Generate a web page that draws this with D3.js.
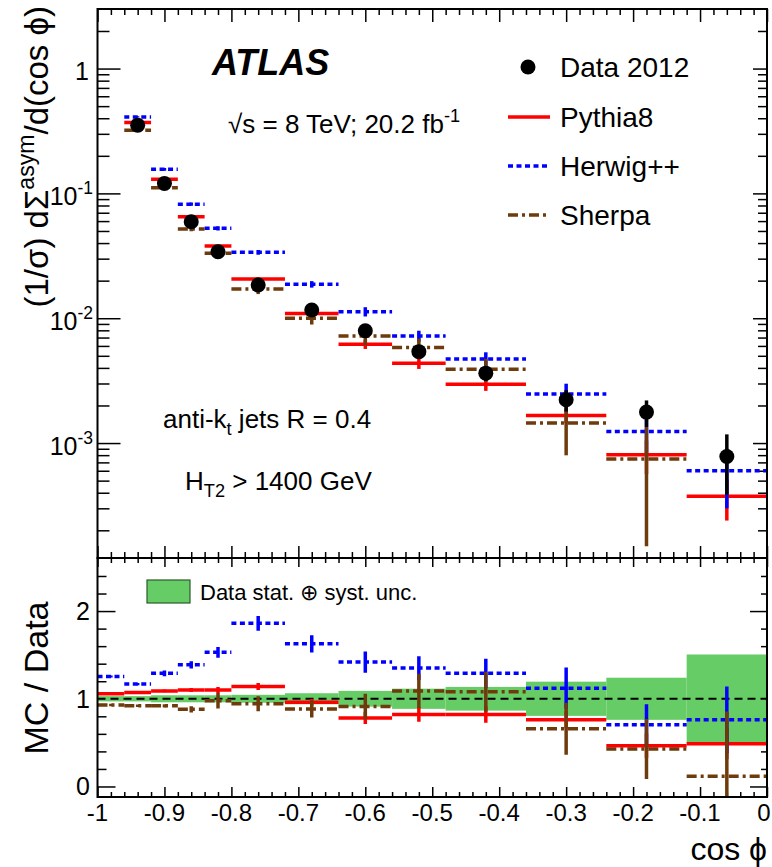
<!DOCTYPE html>
<html>
<head>
<meta charset="utf-8">
<style>
  body { margin: 0; background: #fff; }
  svg { font-family: "Liberation Sans", Arial, Helvetica, sans-serif; }
  .axis .domain { display: none; }
  .axis line { stroke: #000; stroke-width: 1.5px; }
  .frame { fill: none; stroke: #000; stroke-width: 2px; }
</style>
</head>
<body>
<svg id="chart" width="772" height="867"></svg>
<script src="https://d3js.org/d3.v7.min.js"></script>
<script>
// bin edges in cos phi
var edges = [-1, -0.96, -0.92, -0.88, -0.84, -0.8, -0.72, -0.64, -0.56, -0.48, -0.36, -0.24, -0.12, 0];

// upper panel, (1/sigma) dSigma/dcos phi ; null = off scale
var dataVal = [null, 0.352, 0.120, 0.0593, 0.0341, 0.01846, 0.01165, 0.00793, 0.0054, 0.00363, 0.00222, 0.00177, 0.00078];
var pythia  = [null, 0.370, 0.130, 0.065, 0.0379, 0.0206, 0.0109, 0.0062, 0.00436, 0.00296, 0.00166, 0.000806, 0.000374];
var herwig  = [null, 0.410, 0.156, 0.082, 0.0525, 0.0337, 0.0187, 0.01129, 0.00722, 0.00472, 0.00247, 0.00124, 0.0006];
var sherpa  = [null, 0.321, 0.111, 0.0518, 0.0331, 0.01715, 0.0100, 0.00722, 0.00582, 0.00391, 0.00145, 0.000745, null];

// lower panel, MC / Data
var pythiaRatio = [1.057, 1.072, 1.09, 1.10, 1.10, 1.14, 0.96, 0.78, 0.82, 0.82, 0.76, 0.465, 0.487];
var herwigRatio = [1.254, 1.167, 1.29, 1.387, 1.53, 1.86, 1.626, 1.418, 1.35, 1.29, 1.12, 0.704, 0.76];
var sherpaRatio = [0.928, 0.92, 0.92, 0.88, 0.977, 0.943, 0.883, 0.912, 1.09, 1.08, 0.658, 0.427, 0.117];

// relative uncertainties
var dataRelErr = [0.03, 0.03, 0.04, 0.04, 0.04, 0.045, 0.063, 0.09, 0.115, 0.135, 0.195, 0.24, 0.505];
var pythiaErr  = [0.01, 0.01, 0.015, 0.02, 0.03, 0.035, 0.04, 0.085, 0.1, 0.115, 0.13, 0.3, 0.36];
var herwigErr  = [0.01, 0.01, 0.025, 0.03, 0.04, 0.045, 0.06, 0.085, 0.1, 0.13, 0.21, 0.33, 0.5];
var sherpaErr  = [0.015, 0.015, 0.02, 0.04, 0.09, 0.09, 0.11, 0.16, 0.18, 0.21, 0.45, 0.8, 6.3];

var xMajor = d3.range(11).map(function(i){ return -1 + i * 0.1; });
var xMinor = d3.range(51).map(function(i){ return -1 + i * 0.02; }).filter(function(d, i){ return i % 5 != 0; });
var yDecades = [1, 0.1, 0.01, 0.001];
var rMajor = [0, 1, 2];
var rMinor = [0.2, 0.4, 0.6, 0.8, 1.2, 1.4, 1.6, 1.8, 2.2, 2.4];

var left = 97.5, right = 767;
var topY0 = 9, topY1 = 558, ratY0 = 558, ratY1 = 797;

var x = d3.scaleLinear().domain([-1, 0]).range([left, right]);
var y = d3.scaleLog().domain([1.2e-4, 3]).range([topY1, topY0]);
var yr = d3.scaleLinear().domain([-0.12, 2.605]).range([ratY1, ratY0]);

var yMinor = [];
[-4, -3, -2, -1, 0].forEach(function(e){
  for (var k = 2; k <= 9; k++) {
    var v = k * Math.pow(10, e);
    if (v > 1.2e-4 && v < 3) yMinor.push(v);
  }
});

var svg = d3.select("#chart");
var defs = svg.append("defs");
defs.append("clipPath").attr("id", "clipTop").append("rect")
    .attr("x", left).attr("y", topY0).attr("width", right - left).attr("height", topY1 - topY0);
defs.append("clipPath").attr("id", "clipRat").append("rect")
    .attr("x", left).attr("y", ratY0).attr("width", right - left).attr("height", ratY1 - ratY0);

var bins = d3.range(edges.length - 1).map(function(i){
  return {i: i, lo: edges[i], hi: edges[i + 1], mid: (edges[i] + edges[i + 1]) / 2};
});

var series = [
  {name: "Pythia8",  vals: pythia, ratio: pythiaRatio, err: pythiaErr, color: "#ff0000", dash: null},
  {name: "Herwig++", vals: herwig, ratio: herwigRatio, err: herwigErr, color: "#0000ff", dash: "5,3.5"},
  {name: "Sherpa",   vals: sherpa, ratio: sherpaRatio, err: sherpaErr, color: "#6e3b0c", dash: "10,4,3,4"}
];

// ---------- ticks
function ticks(axis, values, size, tx, ty) {
  svg.append("g").attr("class", "axis")
      .attr("transform", "translate(" + tx + "," + ty + ")")
      .call(axis.tickValues(values).tickSize(-size).tickFormat(""));
}
// upper panel
ticks(d3.axisBottom(x), xMajor, 12, 0, topY1);
ticks(d3.axisBottom(x), xMinor, 6, 0, topY1);
ticks(d3.axisTop(x), xMajor, 13, 0, topY0);
ticks(d3.axisTop(x), xMinor, 6, 0, topY0);
ticks(d3.axisLeft(y), yDecades, 23, left, 0);
ticks(d3.axisLeft(y), yMinor, 12, left, 0);
ticks(d3.axisRight(y), yDecades, 14, right, 0);
ticks(d3.axisRight(y), yMinor, 9, right, 0);
// ratio panel
ticks(d3.axisBottom(x), xMajor, 10, 0, ratY1);
ticks(d3.axisBottom(x), xMinor, 5, 0, ratY1);
ticks(d3.axisTop(x), xMajor, 9, 0, ratY0);
ticks(d3.axisTop(x), xMinor, 5, 0, ratY0);
ticks(d3.axisLeft(yr), rMajor, 18, left, 0);
ticks(d3.axisLeft(yr), rMinor, 9, left, 0);
ticks(d3.axisRight(yr), rMajor, 17, right, 0);
ticks(d3.axisRight(yr), rMinor, 6, right, 0);

// ---------- upper panel
var gTop = svg.append("g").attr("clip-path", "url(#clipTop)");

series.forEach(function(s){
  var g = gTop.append("g");
  var b = bins.filter(function(d){ return s.vals[d.i] != null; });
  g.selectAll("line.err").data(b).enter().append("line")
      .attr("x1", function(d){ return x(d.mid); })
      .attr("x2", function(d){ return x(d.mid); })
      .attr("y1", function(d){ return y(s.vals[d.i] * (1 + s.err[d.i])); })
      .attr("y2", function(d){ return y(Math.max(s.vals[d.i] * (1 - s.err[d.i]), 1e-6)); })
      .attr("stroke", s.color).attr("stroke-width", 3.5);
  g.selectAll("line.h").data(b).enter().append("line")
      .attr("x1", function(d){ return x(d.lo); })
      .attr("x2", function(d){ return x(d.hi); })
      .attr("y1", function(d){ return y(s.vals[d.i]); })
      .attr("y2", function(d){ return y(s.vals[d.i]); })
      .attr("stroke", s.color).attr("stroke-width", 3.5)
      .attr("stroke-dasharray", s.dash);
});

var dBins = bins.filter(function(d){ return dataVal[d.i] != null; });
gTop.selectAll("line.derr").data(dBins).enter().append("line")
    .attr("x1", function(d){ return x(d.mid); })
    .attr("x2", function(d){ return x(d.mid); })
    .attr("y1", function(d){ return y(dataVal[d.i] * (1 + dataRelErr[d.i])); })
    .attr("y2", function(d){ return y(dataVal[d.i] * (1 - dataRelErr[d.i])); })
    .attr("stroke", "#000").attr("stroke-width", 3.5);
gTop.selectAll("circle").data(dBins).enter().append("circle")
    .attr("cx", function(d){ return x(d.mid); })
    .attr("cy", function(d){ return y(dataVal[d.i]); })
    .attr("r", 7.5).attr("fill", "#000");

// ---------- ratio panel
var gRat = svg.append("g").attr("clip-path", "url(#clipRat)");
gRat.selectAll("rect.band").data(bins).enter().append("rect")
    .attr("x", function(d){ return x(d.lo); })
    .attr("width", function(d){ return x(d.hi) - x(d.lo); })
    .attr("y", function(d){ return yr(1 + dataRelErr[d.i]); })
    .attr("height", function(d){ return yr(1 - dataRelErr[d.i]) - yr(1 + dataRelErr[d.i]); })
    .attr("fill", "#66cc66");
gRat.append("line")
    .attr("x1", left).attr("x2", right).attr("y1", yr(1)).attr("y2", yr(1))
    .attr("stroke", "#000").attr("stroke-width", 2).attr("stroke-dasharray", "8,5");

series.forEach(function(s){
  var g = gRat.append("g");
  g.selectAll("line.err").data(bins).enter().append("line")
      .attr("x1", function(d){ return x(d.mid); })
      .attr("x2", function(d){ return x(d.mid); })
      .attr("y1", function(d){ return yr(s.ratio[d.i] * (1 + s.err[d.i])); })
      .attr("y2", function(d){ return yr(s.ratio[d.i] * (1 - s.err[d.i])); })
      .attr("stroke", s.color).attr("stroke-width", 3.5);
  g.selectAll("line.h").data(bins).enter().append("line")
      .attr("x1", function(d){ return x(d.lo); })
      .attr("x2", function(d){ return x(d.hi); })
      .attr("y1", function(d){ return yr(s.ratio[d.i]); })
      .attr("y2", function(d){ return yr(s.ratio[d.i]); })
      .attr("stroke", s.color).attr("stroke-width", 3.5)
      .attr("stroke-dasharray", s.dash);
});

// ---------- frames
svg.append("rect").attr("class", "frame")
    .attr("x", left).attr("y", topY0).attr("width", right - left).attr("height", topY1 - topY0);
svg.append("rect").attr("class", "frame")
    .attr("x", left).attr("y", ratY0).attr("width", right - left).attr("height", ratY1 - ratY0);

// ---------- labels
function supText(g, parts, base) {
  var t = g.append("text");
  var shift = 0;
  parts.forEach(function(p){
    var want = p.sup ? -base * 0.42 : (p.sub ? base * 0.25 : 0);
    t.append("tspan").text(p.t)
        .attr("font-size", (p.sup || p.sub) ? base * 0.7 : base)
        .attr("dy", want - shift);
    shift = want;
  });
  return t;
}

// y tick labels (log)
yDecades.forEach(function(v){
  var e = Math.round(Math.log10(v));
  var g = svg.append("g");
  var t = e == 0 ? supText(g, [{t: "1"}], 25) : supText(g, [{t: "10"}, {t: String(e), sup: true}], 25);
  t.attr("x", e == 0 ? 89 : 93).attr("y", y(v) + 11.5).attr("text-anchor", "end");
});
rMajor.forEach(function(v){
  svg.append("text").attr("x", 90).attr("y", yr(v) + 9)
      .attr("text-anchor", "end").attr("font-size", 25).text(v);
});
xMajor.forEach(function(v){
  svg.append("text").attr("x", Math.min(x(v), 764)).attr("y", 821)
      .attr("text-anchor", "middle").attr("font-size", 24)
      .text(String(+v.toFixed(1)));
});

// axis titles
svg.append("text").attr("x", right).attr("y", 860).attr("text-anchor", "end")
    .attr("font-size", 32).text("cos \u03d5");

var yt = supText(svg.append("g").attr("transform", "translate(48,6) rotate(-90)"),
  [{t: "(1/\u03c3) d\u03a3"}, {t: "asym", sup: true}, {t: "/d(cos \u03d5)"}], 33);
yt.attr("text-anchor", "end");

svg.append("g").attr("transform", "translate(48,678) rotate(-90)")
  .append("text").attr("text-anchor", "middle").attr("font-size", 34).text("MC / Data");

// ATLAS labels
svg.append("text").attr("x", 212).attr("y", 75).attr("font-size", 36)
    .attr("font-weight", "bold").attr("font-style", "italic").text("ATLAS");
supText(svg.append("g"), [{t: "\u221as = 8 TeV; 20.2 fb"}, {t: "-1", sup: true}], 26)
    .attr("x", 228).attr("y", 133);
supText(svg.append("g"), [{t: "anti-k"}, {t: "t", sub: true}, {t: " jets R = 0.4"}], 26)
    .attr("x", 163).attr("y", 428);
supText(svg.append("g"), [{t: "H"}, {t: "T2", sub: true}, {t: " > 1400 GeV"}], 26)
    .attr("x", 185).attr("y", 490);

// legend
var leg = svg.append("g");
leg.append("circle").attr("cx", 528).attr("cy", 67).attr("r", 7.5).attr("fill", "#000");
leg.append("text").attr("x", 560).attr("y", 77).attr("font-size", 28).text("Data 2012");
series.forEach(function(s, i){
  var yy = 117 + i * 49;
  leg.append("line").attr("x1", 508).attr("x2", 550).attr("y1", yy).attr("y2", yy)
      .attr("stroke", s.color).attr("stroke-width", 3.5).attr("stroke-dasharray", s.dash);
  leg.append("text").attr("x", 560).attr("y", yy + 10).attr("font-size", 28).text(s.name);
});

svg.append("rect").attr("x", 147).attr("y", 580).attr("width", 43).attr("height", 23)
    .attr("fill", "#66cc66").attr("stroke", "#2a5a2a").attr("stroke-width", 1.2);
svg.append("text").attr("x", 200).attr("y", 600).attr("font-size", 22)
    .text("Data stat. \u2295 syst. unc.");
</script>
</body>
</html>
